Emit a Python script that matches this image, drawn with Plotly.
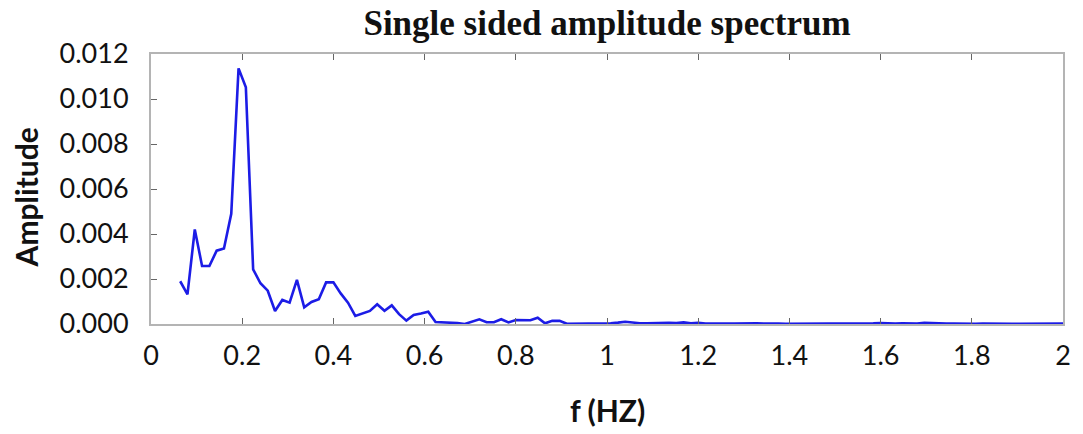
import plotly.graph_objects as go

freq_hz = [
    0.064, 0.080, 0.096, 0.112, 0.128, 0.144, 0.160, 0.176, 0.192, 0.208,
    0.224, 0.240, 0.256, 0.272, 0.288, 0.304, 0.320, 0.336, 0.352, 0.368,
    0.384, 0.400, 0.416, 0.432, 0.448, 0.464, 0.480, 0.496, 0.512, 0.528,
    0.544, 0.560, 0.576, 0.592, 0.608, 0.624, 0.640, 0.656, 0.672, 0.688,
    0.704, 0.720, 0.736, 0.752, 0.768, 0.784, 0.800, 0.816, 0.832, 0.848,
    0.864, 0.880, 0.896, 0.912, 0.928, 0.944, 0.960, 0.976, 0.992, 1.008,
    1.024, 1.040, 1.056, 1.072, 1.088, 1.104, 1.120, 1.136, 1.152, 1.168,
    1.184, 1.200, 1.216, 1.232, 1.248, 1.264, 1.280, 1.296, 1.312, 1.328,
    1.344, 1.360, 1.376, 1.392, 1.408, 1.424, 1.440, 1.456, 1.472, 1.488,
    1.504, 1.520, 1.536, 1.552, 1.568, 1.584, 1.600, 1.616, 1.632, 1.648,
    1.664, 1.680, 1.696, 1.712, 1.728, 1.744, 1.760, 1.776, 1.792, 1.808,
    1.824, 1.840, 1.856, 1.872, 1.888, 1.904, 1.920, 1.936, 1.952, 1.968,
    1.984, 2.000,
]

amplitude = [
    0.00190, 0.00132, 0.00420, 0.00258, 0.00258, 0.00326, 0.00336, 0.00490, 0.01136, 0.01052,
    0.00243, 0.00181, 0.00148, 0.00058, 0.00107, 0.00095, 0.00196, 0.00074, 0.00098, 0.00110,
    0.00185, 0.00185, 0.00136, 0.00095, 0.00036, 0.00047, 0.00058, 0.00088, 0.00059, 0.00083,
    0.00044, 0.00015, 0.00040, 0.00047, 0.00055, 0.00009, 0.00008, 0.00007, 0.00004, 0.00000,
    0.00010, 0.00021, 0.00008, 0.00008, 0.00021, 0.00007, 0.00018, 0.00016, 0.00017, 0.00028,
    0.00003, 0.00014, 0.00014, 0.00001, 0.00001, 0.00001, 0.00001, 0.00001, 0.00002, 0.00003,
    0.00006, 0.00010, 0.00007, 0.00003, 0.00003, 0.00004, 0.00006, 0.00005, 0.00004, 0.00007,
    0.00003, 0.00005, 0.00002, 0.00001, 0.00001, 0.00002, 0.00002, 0.00003, 0.00004, 0.00003,
    0.00002, 0.00003, 0.00002, 0.00001, 0.00001, 0.00002, 0.00001, 0.00002, 0.00001, 0.00001,
    0.00000, 0.00000, 0.00001, 0.00000, 0.00001, 0.00003, 0.00004, 0.00002, 0.00002, 0.00003,
    0.00001, 0.00002, 0.00005, 0.00003, 0.00003, 0.00002, 0.00002, 0.00001, 0.00000, 0.00001,
    0.00002, 0.00001, 0.00001, 0.00001, 0.00001, 0.00001, 0.00001, 0.00002, 0.00001, 0.00001,
    0.00001, 0.00002,
]

x_tick_vals = [0, 0.2, 0.4, 0.6, 0.8, 1.0, 1.2, 1.4, 1.6, 1.8, 2.0]
x_tick_text = ["0", "0.2", "0.4", "0.6", "0.8", "1", "1.2", "1.4", "1.6", "1.8", "2"]
y_tick_vals = [0.000, 0.002, 0.004, 0.006, 0.008, 0.010, 0.012]

fig = go.Figure()
fig.add_trace(go.Scatter(
    x=freq_hz, y=amplitude, mode="lines",
    line=dict(color="#1c1ce6", width=2.6),
    showlegend=False,
))

fig.update_layout(
    width=1083, height=434, autosize=False,
    margin=dict(l=151, r=18, t=54, b=110),
    plot_bgcolor="white", paper_bgcolor="white",
    title=dict(
        text="<b>Single sided amplitude spectrum</b>",
        font=dict(family="Liberation Serif", size=35, color="#111"),
        x=0.5, xref="paper", xanchor="center",
        y=1 - 23 / 434, yref="container", yanchor="middle",
    ),
    annotations=[
        dict(text="<b>Amplitude</b>", textangle=-90, showarrow=False,
             xref="paper", yref="paper", x=-151 / 915 + 26 / 915, y=(324 - 197) / 270,
             xanchor="center", yanchor="middle",
             font=dict(family="Lato", size=30, color="#111")),
        dict(text="<b>f (HZ)</b>", showarrow=False,
             xref="paper", yref="paper", x=0.5, y=-(410 - 324) / 270,
             xanchor="center", yanchor="middle",
             font=dict(family="Lato", size=30, color="#111")),
    ],
)

fig.update_xaxes(
    range=[0, 2], tickvals=x_tick_vals, ticktext=x_tick_text,
    showgrid=False, zeroline=False,
    showline=True, mirror="ticks", linecolor="#b4b4b4", linewidth=2,
    ticks="inside", ticklen=6, tickcolor="#666", tickwidth=1,
    ticklabelstandoff=7,
    tickfont=dict(family="Lato", size=27, color="#111"),
)
fig.update_yaxes(
    range=[0, 0.012], tickvals=y_tick_vals, tickformat=".3f",
    showgrid=False, zeroline=False,
    showline=True, mirror=True, linecolor="#b4b4b4", linewidth=2,
    ticks="inside", ticklen=6, tickcolor="#666", tickwidth=1,
    ticklabelstandoff=15,
    tickfont=dict(family="Lato", size=27, color="#111"),
)

fig.write_html("out.html")
